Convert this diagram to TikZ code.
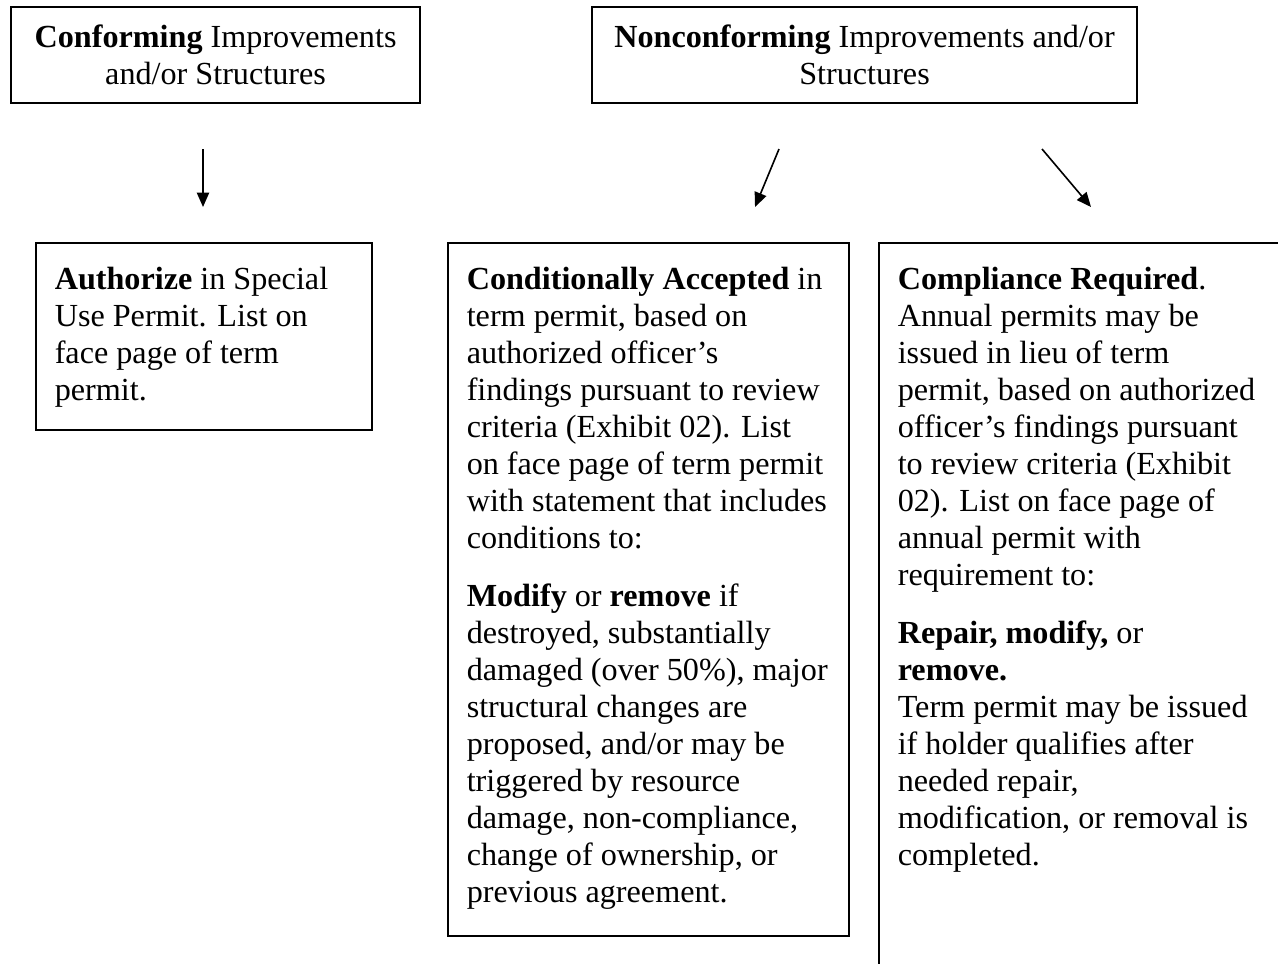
\documentclass[tikz,border=0pt]{standalone}
\usepackage{fontspec}
\setmainfont{Liberation Serif}
\usetikzlibrary{arrows.meta,positioning}

\begin{document}
\begin{tikzpicture}[
    x=0.373pt, y=-0.373pt,
    font=\fontsize{12pt}{13.8pt}\selectfont,
    headBox/.style={
        rectangle, draw=black, line width=0.75pt, align=center,
        anchor=north west, minimum height=35.8pt, inner sep=0pt
    },
    permitBox/.style={
        rectangle, draw=black, line width=0.75pt, align=flush left,
        anchor=north west, inner xsep=7pt, inner ysep=8.5pt, text height=9pt
    },
    flowArrow/.style={
        -{Triangle[length=5.4pt, width=4.6pt]}, line width=0.6pt, draw=black
    }
]
\useasboundingbox (0,0) rectangle (1278,963);
\clip (0,0) rectangle (1278,963);

% Nodes
\node[headBox, minimum width=152.6pt] (conforming) at (10,6) {
    \textbf{Conforming} Improvements\\
    and/or Structures
};

\node[headBox, minimum width=203.3pt] (nonconforming) at (591,6) {
    \textbf{Nonconforming} Improvements and/or\\
    Structures
};

\node[permitBox, text width=111.3pt, text depth=43.8pt] (authorize) at (35,242) {
    \textbf{Authorize} in Special\\
    Use Permit.  List on\\
    face page of term\\
    permit.
};

\node[permitBox, text width=135.6pt, text depth=232.6pt] (conditional) at (447,242) {
    \textbf{Conditionally Accepted} in\\
    term permit, based on\\
    authorized officer's\\
    findings pursuant to review\\
    criteria (Exhibit 02).  List\\
    on face page of term permit\\
    with statement that includes\\
    conditions to:\\[7.5pt]
    \textbf{Modify} or \textbf{remove} if\\
    destroyed, substantially\\
    damaged (over 50\%), major\\
    structural changes are\\
    proposed, and/or may be\\
    triggered by resource\\
    damage, non-compliance,\\
    change of ownership, or\\
    previous agreement.
};

\node[permitBox, text width=146.4pt, text depth=270pt] (compliance) at (878,242) {
    \textbf{Compliance Required}.\\
    Annual permits may be\\
    issued in lieu of term\\
    permit, based on authorized\\
    officer's findings pursuant\\
    to review criteria (Exhibit\\
    02).  List on face page of\\
    annual permit with\\
    requirement to:\\[7.5pt]
    \textbf{Repair, modify,} or\\
    \textbf{remove.}\\
    Term permit may be issued\\
    if holder qualifies after\\
    needed repair,\\
    modification, or removal is\\
    completed.
};

% Arrow ends
\coordinate (confFrom) at (203,149);
\coordinate (confTo) at (203,207);
\coordinate (condFrom) at (779,149);
\coordinate (condTo) at (755,207);
\coordinate (compFrom) at (1042,149);
\coordinate (compTo) at (1091,207);

% Transitions
\draw[flowArrow] (confFrom) -- (confTo);
\draw[flowArrow] (condFrom) -- (condTo);
\draw[flowArrow] (compFrom) -- (compTo);

\end{tikzpicture}
\end{document}
